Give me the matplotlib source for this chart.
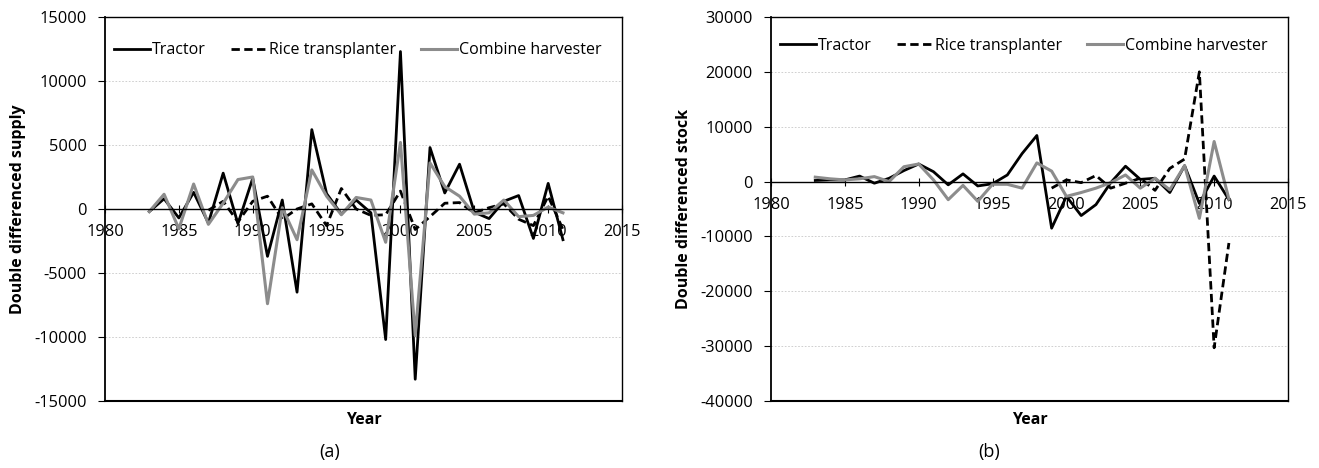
import numpy as np
import matplotlib
matplotlib.use("Agg")
import matplotlib.pyplot as plt

nan = np.nan
years = list(range(1983, 2012))

# (a) double differenced supply
supply_tractor = [-200, 800, -700, 1300, -1100, 2800, -1150, 2400, -3700, 700,
                  -6500, 6200, 1200, -400, 700, -300, -10200, 12300, -13300, 4800,
                  1250, 3500, -250, -750, 600, 1050, -2300, 2000, -2400]
supply_rice = [nan, nan, nan, nan, -100, 600, -1000, 600, 1000, -800,
               0, 400, -1300, 1600, 0, -500, -450, 1400, -1600, -600,
               450, 500, -300, 100, 400, -800, -1300, 1000, -1600]
supply_combine = [-200, 1150, -1550, 1950, -1200, 450, 2300, 2500, -7400, 100,
                  -2400, 3050, 1000, -450, 900, 700, -2600, 5200, -9900, 3600,
                  1750, 1000, -400, -300, 700, -600, -500, 150, -300]

# (b) double differenced stock
stock_tractor = [200, 300, 300, 1000, -300, 600, 2000, 3200, 1800, -600,
                 1400, -800, -400, 1200, 5100, 8400, -8500, -2700, -6200, -4200,
                 -200, 2800, 400, 600, -2000, 2900, -4000, 1000, -3300]
stock_rice = [nan] * 16 + [-1200, 300, -200, 1100, -1200, -300, 600, -1600,
                           2400, 4100, 20000, -30300, -11200]
stock_combine = [800, 500, 300, 500, 900, 0, 2700, 3200, 300, -3300,
                 -700, -3600, -500, -500, -1200, 3400, 1900, -2700, -2000, -1200,
                 -200, 1200, -1200, 600, -1500, 2900, -6700, 7300, -3200]

plt.rcParams['font.family'] = ['Open Sans', 'DejaVu Sans']
plt.rcParams['font.size'] = 10
plt.rcParams['axes.unicode_minus'] = False

fig = plt.figure(figsize=(13.19, 4.68), dpi=100)
ax1 = fig.add_axes([0.0796, 0.1432, 0.3920, 0.8205])
ax2 = fig.add_axes([0.5845, 0.1432, 0.3920, 0.8205])

panels = [
    (ax1, supply_tractor, supply_rice, supply_combine, (-15000, 15000), 5000,
     "Double differenced supply", "(a)", 0.25, 0.972),
    (ax2, stock_tractor, stock_rice, stock_combine, (-40000, 30000), 10000,
     "Double differenced stock", "(b)", 0.75, 0.983),
]

for ax, tr, ri, co, ylim, step, ylabel, tag, cx, ly in panels:
    ax.plot(years, tr, color="black", lw=2.0, label="Tractor")
    ax.plot(years, ri, color="black", lw=2.0, ls=(0, (3, 1.6)), label="Rice transplanter")
    ax.plot(years, co, color="#8c8c8c", lw=2.2, label="Combine harvester")

    ax.set_xlim(1980, 2015)
    ax.set_ylim(*ylim)
    ax.set_xticks(range(1980, 2016, 5))
    ax.set_yticks(range(ylim[0], ylim[1] + 1, step))
    ax.yaxis.grid(True, color="#c8c8c8", ls=(0, (2, 2)), lw=0.6)
    ax.set_axisbelow(True)

    ax.spines['bottom'].set_position(('data', 0))
    ax.spines['bottom'].set_linewidth(1.0)
    ax.spines['left'].set_linewidth(1.3)
    ax.spines['top'].set_linewidth(1.0)
    ax.spines['right'].set_linewidth(1.0)
    # frame bottom edge
    ax.axhline(ylim[0], color="black", lw=1.5, clip_on=False)

    ax.tick_params(axis='x', direction='inout', length=6, labelsize=11.8, pad=8)
    ax.tick_params(axis='y', direction='out', length=5, labelsize=11.8, pad=8)

    ax.set_ylabel(ylabel, fontsize=11.5, fontweight="bold", labelpad=6)
    ax.text(0.5, -0.05, "Year", transform=ax.transAxes, ha="center", va="center",
            fontsize=11.5, fontweight="bold")
    fig.text(cx, 0.035, tag, ha="center", va="center", fontsize=13)

    ax.legend(loc="upper left", bbox_to_anchor=(-0.01, ly), ncol=3, frameon=False,
              handlelength=2.25, handletextpad=0.1, columnspacing=1.6, fontsize=11.5)

fig.savefig("out.png", dpi=100)
